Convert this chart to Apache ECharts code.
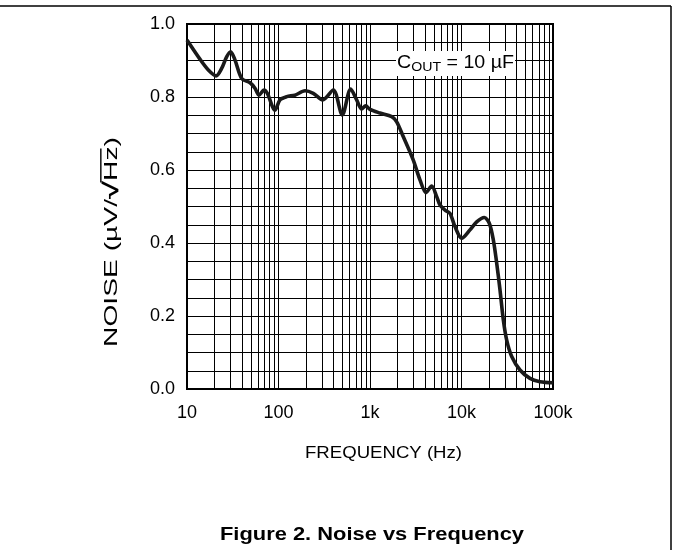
<!DOCTYPE html>
<html><head><meta charset="utf-8">
<script src="https://cdn.jsdelivr.net/npm/echarts@6/dist/echarts.min.js"></script>
<style>html,body{margin:0;padding:0;background:#fff}#c{width:673px;height:550px}</style>
</head><body><div id="c"></div>
<script>
// ---- data ----
const freq  = [10, 13.9, 17.1, 20.8, 24.0, 27.1, 30, 33.5, 39.6, 48.9, 55.3, 61.2, 69.5, 75.5, 91.6, 103.8, 123, 151, 195, 240, 304, 397, 498, 615, 715, 811, 897, 1000, 1285, 1726, 1958, 2313, 2973, 3516, 4093, 4720, 5355, 5822, 6607, 7480, 8490, 10040, 12380, 14650, 17750, 20130, 22290, 24270, 26360, 28660, 31180, 35380, 43550, 56060, 72100, 100000];
const noise = [0.956, 0.903, 0.874, 0.858, 0.879, 0.910, 0.924, 0.901, 0.851, 0.839, 0.824, 0.805, 0.819, 0.810, 0.764, 0.792, 0.801, 0.805, 0.817, 0.810, 0.792, 0.819, 0.751, 0.822, 0.792, 0.767, 0.776, 0.766, 0.756, 0.746, 0.732, 0.691, 0.627, 0.573, 0.538, 0.556, 0.527, 0.504, 0.490, 0.481, 0.445, 0.413, 0.436, 0.458, 0.470, 0.454, 0.408, 0.344, 0.271, 0.189, 0.134, 0.089, 0.052, 0.029, 0.020, 0.017];
const xTickLabels = {10: '10', 100: '100', 1000: '1k', 10000: '10k', 100000: '100k'};
const yLabelEvery = 0.2;
const decades = [10, 100, 1000, 10000];
const minorMultipliers = [2, 3, 4, 5, 6, 7, 8, 9];
const titleText = 'Figure 2. Noise vs Frequency';
const xNameText = 'FREQUENCY (Hz)';
const yNameParts = ['NOISE (\u00b5V/', '\u221a', 'Hz)'];
const noteParts = ['C', 'OUT', ' = 10 \u00b5F'];

const FONT = '"Liberation Sans", Arial, Helvetica, sans-serif';
const mctx = document.createElement('canvas').getContext('2d');
function tw(s, size, weight) { mctx.font = (weight || 'normal') + ' ' + size + 'px ' + FONT; return mctx.measureText(s).width; }

const minorLines = [];
decades.forEach(d => minorMultipliers.forEach(m => minorLines.push({xAxis: d * m})));

// y-axis name pieces
const yS = 18;
const yW = yNameParts.map((p, i) => tw(p, i === 1 ? yS + 3 : yS, i === 1 ? 'bold' : 'normal'));
const yTot = yW.reduce((a, b) => a + b, 0);
let yx = -yTot / 2;
const yChildren = [];
yNameParts.forEach((p, i) => {
  yChildren.push({type: 'text', z: 21, x: yx, y: 0, style: {text: p, fill: '#000', font: (i === 1 ? 'bold ' + (yS + 3) : 'normal ' + yS) + 'px ' + FONT, align: 'left', verticalAlign: 'middle'}});
  if (i === 2) yChildren.push({type: 'line', z: 21, shape: {x1: yx - 1, y1: -yS * 0.62, x2: yx + yW[2] * 0.74, y2: -yS * 0.62}, style: {stroke: '#000', lineWidth: 1.4}});
  yx += yW[i];
});

// note pieces
const nS = 18, nSub = 13;
const nW = [tw(noteParts[0], nS), tw(noteParts[1], nSub), tw(noteParts[2], nS)];
const nTot = nW[0] + nW[1] + nW[2];
const noteChildren = [
  {type: 'text', z: 22, x: 0, y: 0, style: {text: noteParts[0], fill: '#000', font: nS + 'px ' + FONT, align: 'left', verticalAlign: 'middle'}},
  {type: 'text', z: 22, x: nW[0], y: 4, style: {text: noteParts[1], fill: '#000', font: nSub + 'px ' + FONT, align: 'left', verticalAlign: 'middle'}},
  {type: 'text', z: 22, x: nW[0] + nW[1], y: 0, style: {text: noteParts[2], fill: '#000', font: nS + 'px ' + FONT, align: 'left', verticalAlign: 'middle'}}
];

const titleW = tw(titleText, 18, 'bold');
const xNameW = tw(xNameText, 17);

const chart = echarts.init(document.getElementById('c'), null, {renderer: 'canvas'});
chart.setOption({
  animation: false,
  backgroundColor: '#fff',
  grid: {left: 187, top: 24, width: 366, height: 365, show: true, borderColor: '#000', borderWidth: 2, backgroundColor: 'transparent'},
  xAxis: {
    type: 'log', logBase: 10, min: 10, max: 100000,
    axisLine: {show: false}, axisTick: {show: false},
    splitLine: {show: true, lineStyle: {color: '#000', width: 1}},
    axisLabel: {color: '#000', fontSize: 18, fontFamily: FONT, margin: 15, formatter: v => xTickLabels[Math.round(v)] || ''}
  },
  yAxis: {
    type: 'value', min: 0, max: 1, interval: 0.05,
    axisLine: {show: false}, axisTick: {show: false},
    splitLine: {show: true, lineStyle: {color: '#000', width: 1}},
    axisLabel: {color: '#000', fontSize: 18, fontFamily: FONT, margin: 12,
      formatter: v => Math.abs(v / yLabelEvery - Math.round(v / yLabelEvery)) < 1e-6 ? v.toFixed(1) : ''}
  },
  series: [
    {type: 'line', data: [], z: 1, silent: true,
     markLine: {silent: true, symbol: 'none', animation: false, label: {show: false},
       lineStyle: {type: 'solid', color: '#000', width: 1}, emphasis: {disabled: true}, data: minorLines}},
    {type: 'line', z: 5, data: freq.map((f, i) => [f, noise[i]]), showSymbol: false, smooth: 0.3,
     lineStyle: {color: '#1a1a1a', width: 3.6}, silent: true}
  ],
  graphic: [
    {type: 'line', z: 20, shape: {x1: 0, y1: 6, x2: 671, y2: 6}, style: {stroke: '#000', lineWidth: 1.5}},
    {type: 'line', z: 20, shape: {x1: 671, y1: 6, x2: 671, y2: 550}, style: {stroke: '#000', lineWidth: 1.5}},
    {type: 'rect', z: 20, shape: {x: 396, y: 51, width: 119, height: 25}, style: {fill: '#fff'}},
    {type: 'group', z: 22, x: 397, y: 63, scaleX: 117 / nTot, children: noteChildren},
    {type: 'text', z: 21, x: 383.5, y: 453, scaleX: 157 / xNameW, style: {text: xNameText, fill: '#000', font: '17px ' + FONT, align: 'center', verticalAlign: 'middle'}},
    {type: 'text', z: 21, x: 372, y: 535, scaleX: 304 / titleW, style: {text: titleText, fill: '#000', font: 'bold 18px ' + FONT, align: 'center', verticalAlign: 'middle'}},
    {type: 'group', z: 21, x: 112, y: 242, rotation: Math.PI / 2, scaleX: 210 / yTot, children: yChildren}
  ]
});
</script></body></html>
